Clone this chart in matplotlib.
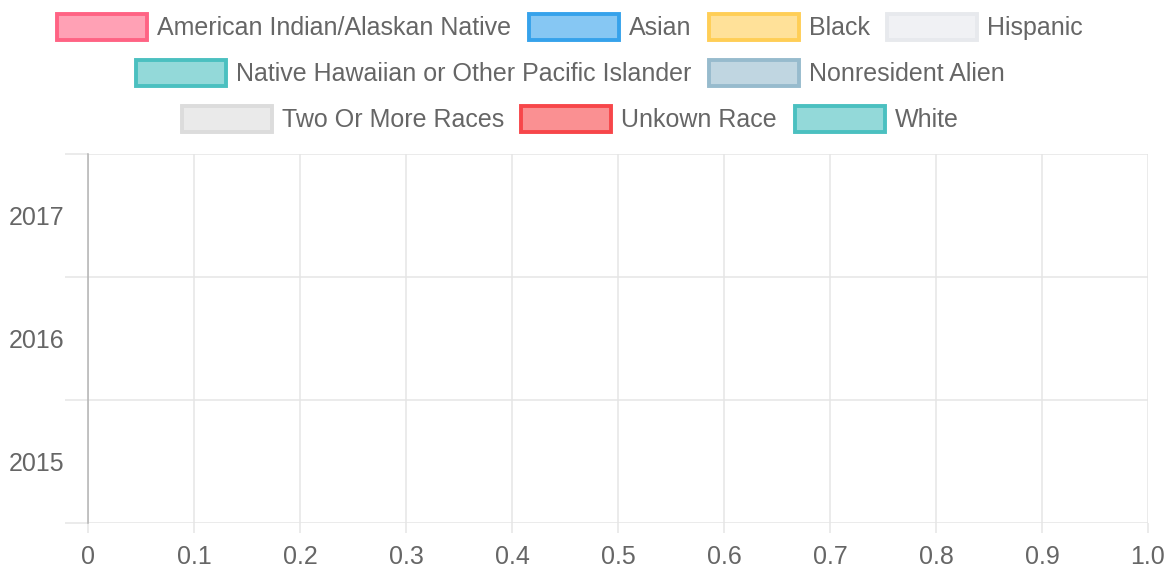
import matplotlib
matplotlib.use("Agg")
import matplotlib.pyplot as plt
from matplotlib.patches import Patch

years = ["2015", "2016", "2017"]
series_names = [
    "American Indian/Alaskan Native", "Asian", "Black", "Hispanic",
    "Native Hawaiian or Other Pacific Islander", "Nonresident Alien",
    "Two Or More Races", "Unkown Race", "White",
]
# every series is empty in the reference
american_indian = [0, 0, 0]
asian = [0, 0, 0]
black = [0, 0, 0]
hispanic = [0, 0, 0]
native_hawaiian = [0, 0, 0]
nonresident = [0, 0, 0]
two_or_more = [0, 0, 0]
unknown = [0, 0, 0]
white = [0, 0, 0]
series_values = [american_indian, asian, black, hispanic, native_hawaiian,
                 nonresident, two_or_more, unknown, white]

border_colors = [(255, 99, 132), (54, 162, 235), (255, 206, 86), (231, 233, 237),
                 (75, 192, 192), (151, 187, 205), (220, 220, 220), (247, 70, 74),
                 (75, 192, 192)]
legend_rows = [[0, 1, 2, 3], [4, 5], [6, 7, 8]]

plt.rcParams['font.family'] = ['Liberation Sans', 'DejaVu Sans']
text_color = "#666666"
grid_color = "#e5e5e5"
W, H = 1174, 575
fs = 18

fig = plt.figure(figsize=(W / 100, H / 100), dpi=100)
ax = fig.add_axes([88 / W, 1 - 523 / H, (1148 - 88) / W, (523 - 154) / H])

ypos = list(range(len(years)))
left = [0] * len(years)
for vals, c in zip(series_values, border_colors):
    rgb = tuple(v / 255 for v in c)
    ax.barh(ypos, vals, left=left, height=0.8, color=rgb + (0.6,), linewidth=0)
    left = [a + b for a, b in zip(left, vals)]

ax.set_xlim(0, 1.0)
ax.set_ylim(-0.5, len(years) - 0.5)
ax.set_xticks([i / 10 for i in range(11)])
ax.set_xticklabels(["0"] + [f"{i / 10:.1f}" for i in range(1, 11)])
ax.set_yticks(ypos)
ax.set_yticklabels(years)
ax.set_yticks([i - 0.5 for i in range(len(years) + 1)], minor=True)

ax.grid(axis="x", which="major", color=grid_color, lw=1.1)
ax.grid(axis="y", which="minor", color=grid_color, lw=1.1)
ax.tick_params(axis="x", which="major", length=7.2, width=1.1, color=grid_color,
               labelsize=fs, labelcolor=text_color, pad=9)
ax.tick_params(axis="y", which="major", length=0, labelsize=fs,
               labelcolor=text_color, pad=17)
ax.tick_params(axis="y", which="minor", length=16.6, width=1.1, color=grid_color)
ax.get_xticklines()[0].set_color("#b3b3b3")
for s in ["top", "right", "bottom"]:
    ax.spines[s].set_visible(False)
ax.spines["left"].set_color("#b3b3b3")
ax.spines["left"].set_linewidth(1.1)
ax.set_axisbelow(True)

row_y = [27, 73, 119]
for row, y in zip(legend_rows, row_y):
    handles = []
    for i in row:
        rgb = tuple(v / 255 for v in border_colors[i])
        handles.append(Patch(facecolor=rgb + (0.6,), edgecolor=rgb, linewidth=2.8,
                             label=series_names[i]))
    fig.legend(handles=handles, loc="center", bbox_to_anchor=(570 / W, 1 - y / H),
               ncol=len(handles), frameon=False, fontsize=fs, labelcolor=text_color,
               handlelength=3.6, handleheight=1.2, handletextpad=0.4,
               columnspacing=0.7, borderpad=0, borderaxespad=0)

fig.savefig("out.png", dpi=100)
